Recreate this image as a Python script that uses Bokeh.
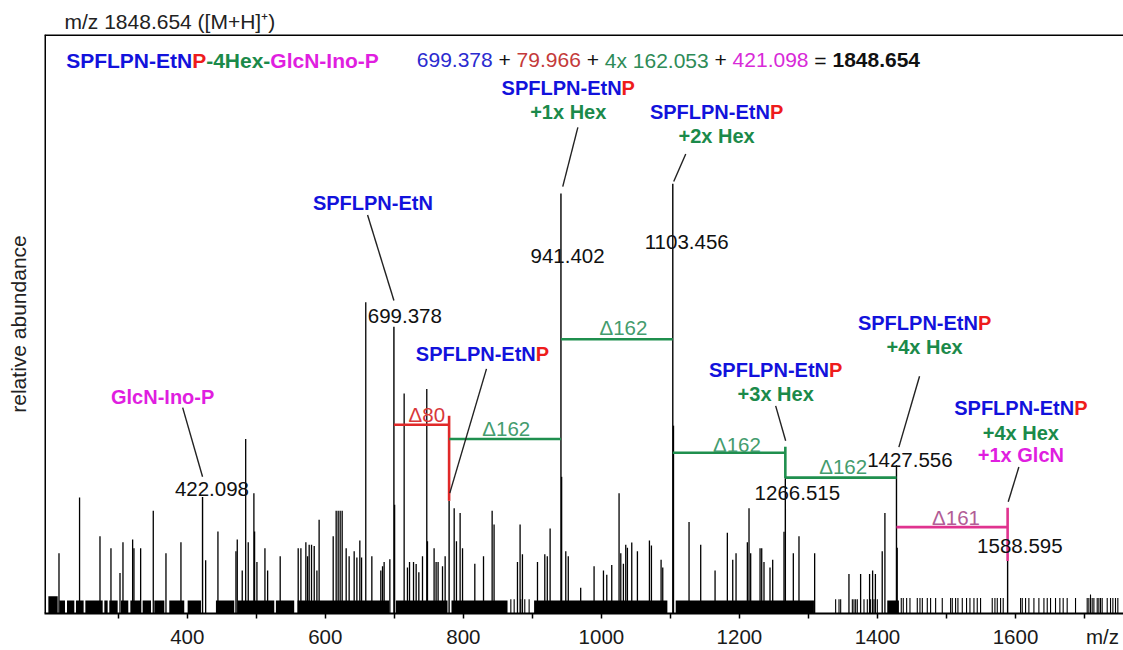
import math
from bokeh.plotting import figure
from bokeh.models import Range1d, FixedTicker, LinearAxis, Span
from bokeh.core.properties import value
from bokeh.embed import file_html
from bokeh.resources import INLINE

FONT = "Liberation Sans"

# ---------------- data ----------------
# labelled ions (m/z, relative abundance %)
ion_mz = [422.098, 699.378, 779.344, 941.402, 1103.456, 1266.515, 1427.556, 1588.595]
ion_int = [27.1, 66.7, 26.2, 97.7, 100.0, 31.5, 34.5, 12.2]

# other resolved peaks (m/z, %)
peak_mz = [214.1, 243.9, 273.5, 289.4, 302.5, 306.8, 320.8, 322.7, 332.4, 350.7,
           369.1, 390.8, 426.6, 444.4, 470.5, 472.4, 479.6, 484.6, 488.3, 496.5,
           497.5, 500.9, 512.5, 516.4, 534.6, 560.7, 564.6, 571.8, 574.3, 576.6,
           580.0, 583.9, 587.8, 591.0, 611.4, 615.7, 618.6, 621.5, 624.4, 630.2,
           634.5, 641.8, 645.7, 650.0, 652.5, 658.6, 667.4, 680.4, 682.9, 685.2,
           693.5, 700.4, 714.2, 719.0, 722.0, 727.8, 731.6, 735.5, 740.8, 747.0,
           748.0, 757.6, 760.5, 763.4, 769.8, 773.6, 786.7, 790.0, 795.3, 798.8,
           816.6, 829.2, 841.7, 844.5, 878.4, 882.2, 885.6, 907.4, 918.0, 921.6,
           925.7, 942.4, 948.4, 952.0, 970.0, 989.4, 1003.0, 1007.8, 1015.0, 1025.6,
           1028.1, 1031.9, 1035.3, 1037.7, 1044.0, 1052.2, 1069.6, 1072.5, 1086.5, 1088.9,
           1104.5, 1127.0, 1143.9, 1164.7, 1182.5, 1190.3, 1195.1, 1211.5, 1213.9, 1216.3,
           1229.9, 1232.3, 1235.6, 1244.3, 1248.2, 1264.6, 1278.1, 1286.3, 1309.0, 1358.7,
           1375.6, 1388.6, 1393.0, 1397.0, 1406.9, 1410.8, 1428.6]
peak_int = [14.0, 27.0, 18.0, 15.2, 9.4, 16.6, 17.2, 15.2, 15.2, 23.9,
            14.0, 16.6, 12.4, 19.1, 14.5, 17.2, 10.0, 40.6, 16.6, 28.0,
            19.1, 12.0, 15.2, 10.0, 13.3, 15.2, 15.2, 16.6, 13.3, 16.0,
            16.0, 15.7, 10.0, 21.8, 18.0, 23.9, 23.9, 23.9, 23.9, 15.2,
            13.3, 14.5, 13.0, 17.0, 13.0, 72.4, 13.3, 10.0, 11.0, 12.0,
            12.6, 25.3, 51.2, 10.7, 12.0, 12.0, 11.5, 9.6, 13.3, 52.2,
            16.8, 15.2, 12.0, 12.0, 11.0, 13.3, 24.5, 16.8, 23.4, 15.2,
            11.6, 13.3, 23.9, 20.7, 12.0, 20.7, 13.8, 12.0, 13.8, 13.3,
            19.8, 31.8, 14.5, 13.3, 6.0, 11.0, 10.0, 9.0, 11.3, 28.0,
            14.0, 11.6, 16.0, 15.3, 16.5, 14.5, 17.0, 15.8, 12.5, 10.7,
            43.7, 21.3, 16.0, 10.0, 18.8, 12.5, 14.0, 16.6, 24.5, 14.0,
            15.2, 15.2, 12.0, 10.7, 12.5, 19.0, 14.0, 18.0, 14.0, 9.2,
            9.2, 9.2, 10.0, 9.2, 14.5, 23.4, 15.3]

# small isolated noise peaks (m/z, %)
small_mz = [868.8, 873.6, 883.2, 889.0, 895.3, 1339.4, 1344.3, 1346.7, 1363.6, 1366.0,
            1368.4, 1370.8, 1380.5, 1385.3, 1390.1, 1395.0, 1399.8, 1434.5, 1437.4, 1442.3,
            1447.1, 1457.7, 1461.6, 1465.0, 1472.2, 1477.0, 1484.3, 1493.9, 1506.0, 1508.4,
            1513.2, 1516.6, 1522.9, 1529.1, 1534.0, 1539.8, 1544.6, 1549.4, 1566.3, 1570.2,
            1573.6, 1578.4, 1582.2, 1607.4, 1609.8, 1614.6, 1619.4, 1626.7, 1633.9, 1641.2,
            1646.0, 1650.8, 1658.0, 1664.3, 1669.1, 1674.9, 1687.0, 1703.9, 1706.3, 1708.7,
            1711.1, 1713.6, 1718.4, 1720.8, 1723.2, 1725.6, 1732.9, 1737.7, 1741.1, 1744.9,
            1748.3]
small_int = [3.3] * 17 + [3.6] * 26 + [3.6] * 14 + [3.6, 3.6, 4.4, 3.6, 3.6, 3.6, 3.6,
             3.6, 3.6, 3.6, 3.6, 3.6, 3.6, 3.6]

# dense noise floor regions (m/z start, m/z end, %)
noise_start = [198.7, 214.6, 225.7, 238.7, 252.3, 279.8, 287.0, 303.9, 317.5, 335.3,
               352.2, 373.9, 400.5, 441.5, 472.9, 528.4, 559.8, 702.2, 782.8, 902.5,
               1107.7, 1414.2]
noise_end = [212.2, 222.8, 236.3, 249.8, 277.4, 284.6, 299.1, 314.5, 333.0, 347.4,
             366.7, 395.6, 419.8, 468.0, 526.0, 554.9, 692.6, 777.0, 864.0, 1095.6,
             1308.0, 1431.1]
noise_int = [4.0, 3.0, 3.0, 3.0, 3.0, 3.0, 3.0, 3.0, 3.0, 3.0,
             3.0, 3.0, 3.0, 3.0, 3.0, 3.0, 3.0, 3.0, 3.0, 3.0,
             3.0, 3.0]

x_labels = [400, 600, 800, 1000, 1200, 1400, 1600]
x_tick_marks = [300, 400, 500, 600, 700, 800, 900, 1000, 1100, 1200, 1300, 1400, 1500, 1600, 1700]
MZ_CAPTION_POS = 1726

X_START, X_END = 193.1, 1756.5
Y_START, Y_END = 0, 134.7

# ---------------- colours ----------------
BLUE = "#1212dc"
RED = "#ee1c1c"
GREEN = "#1b8a4a"
MAG = "#e01ee0"
D_RED = "#d8383a"
D_GREEN = "#449c6e"
D_MAG = "#b25c96"
L_RED = "#e02828"
L_GREEN = "#1f8f4e"
L_MAG = "#e0338f"

# ---------------- figure ----------------
p = figure(width=1123, height=650, x_range=Range1d(X_START, X_END), y_range=Range1d(Y_START, Y_END),
           output_backend="svg", toolbar_location=None, y_axis_location=None,
           min_border_left=44, min_border_right=0, min_border_top=34, min_border_bottom=30)
p.grid.visible = False
p.outline_line_color = None
p.background_fill_color = "white"
p.border_fill_color = "white"

# frame: left and top edges only
p.add_layout(Span(location=Y_END, dimension="width", line_color="black", line_width=3))
p.add_layout(Span(location=X_START, dimension="height", line_color="black", line_width=3))

p.title.text = "m/z 1848.654 ([M+H]\u207a)"
p.title.align = "left"
p.title.offset = 20
p.title.standoff = 4
p.title.text_font = FONT
p.title.text_font_size = "21px"
p.title.text_font_style = "normal"
p.title.text_color = "#222222"

ax = p.xaxis[0]
ax.ticker = FixedTicker(ticks=x_labels + [MZ_CAPTION_POS], minor_ticks=x_tick_marks)
ax.major_label_overrides = {MZ_CAPTION_POS: "m/z"}
ax.axis_line_width = 2
ax.axis_line_color = "black"
ax.major_tick_out = 0
ax.major_tick_in = 0
ax.major_tick_line_color = None
ax.minor_tick_out = 5
ax.minor_tick_in = 0
ax.minor_tick_line_width = 1.5
ax.minor_tick_line_color = "black"
ax.major_label_standoff = 6
ax.major_label_text_font = FONT
ax.major_label_text_font_size = "20.5px"
ax.major_label_text_color = "#1a1a1a"

yax = LinearAxis(ticker=FixedTicker(ticks=[]), axis_label="relative abundance",
                 axis_line_color=None, major_tick_line_color=None, minor_tick_line_color=None,
                 major_label_text_font_size="0px", axis_label_standoff=15,
                 axis_label_text_font=FONT, axis_label_text_font_size="21px",
                 axis_label_text_font_style="normal", axis_label_text_color="#222222")
p.add_layout(yax, "left")

# noise floor and peaks
p.quad(left=noise_start, right=noise_end, bottom=0, top=noise_int,
       fill_color="black", line_color=None)
p.segment(x0=small_mz, y0=[0] * len(small_mz), x1=small_mz, y1=small_int,
          line_color="black", line_width=1.1)
p.segment(x0=peak_mz, y0=[0] * len(peak_mz), x1=peak_mz, y1=peak_int,
          line_color="black", line_width=1.3)
p.segment(x0=ion_mz, y0=[0] * len(ion_mz), x1=ion_mz, y1=ion_int,
          line_color="black", line_width=1.4)

# ---------------- mass-difference brackets ----------------
mz_699, mz_779, mz_941, mz_1103, mz_1266, mz_1427, mz_1588 = (ion_mz[1], ion_mz[2], ion_mz[3],
                                                           ion_mz[4], ion_mz[5], ion_mz[6], ion_mz[7])
brackets = [
    (mz_699, 43.9, mz_779, 43.9, L_RED),
    (mz_779, 46.0, mz_779, ion_int[2], L_RED),
    (mz_779, 40.6, mz_941, 40.6, L_GREEN),
    (mz_941, 63.8, mz_1103, 63.8, L_GREEN),
    (mz_1103, 37.4, mz_1266, 37.4, L_GREEN),
    (mz_1266, 38.8, mz_1266, ion_int[5], L_GREEN),
    (mz_1266, 31.6, mz_1427, 31.6, L_GREEN),
    (mz_1427, 20.1, mz_1588, 20.1, L_MAG),
    (mz_1588, 24.6, mz_1588, ion_int[7], L_MAG),
]
p.segment(x0=[b[0] for b in brackets], y0=[b[1] for b in brackets],
          x1=[b[2] for b in brackets], y1=[b[3] for b in brackets],
          line_color=[b[4] for b in brackets], line_width=2.6)

delta_labels = [("Δ80", 747.1, 46.4, D_RED), ("Δ162", 862.2, 43.1, D_GREEN),
                ("Δ162", 1031.9, 66.5, D_GREEN), ("Δ162", 1196.4, 39.4, D_GREEN),
                ("Δ162", 1350.3, 34.1, D_GREEN), ("Δ161", 1513.9, 22.4, D_MAG)]
p.text(x=[d[1] for d in delta_labels], y=[d[2] for d in delta_labels],
       text=[d[0] for d in delta_labels], text_color=[d[3] for d in delta_labels],
       text_font=value(FONT), text_font_size="20.5px", text_align="center",
       text_baseline="middle")

# ---------------- text helpers ----------------
REG = {" ": 278, "+": 584, "-": 333, ".": 278, "=": 584, "x": 500, "(": 333, ")": 333,
       "[": 278, "]": 278, "/": 278, "m": 833, "z": 500, "M": 833, "H": 722}
BOLD = {"S": 667, "P": 667, "F": 611, "L": 611, "N": 722, "-": 333, "E": 667, "t": 333,
        "+": 584, "x": 556, "H": 722, "e": 556, "G": 778, "l": 278, "c": 556, "I": 278,
        "n": 611, "o": 611, " ": 278, ".": 278, "=": 584}


def text_width(s, bold, size):
    table = BOLD if bold else REG
    return sum(table.get(ch, 556) for ch in s) / 1000.0 * size


def rich_line(segs, x, y, size, align="center"):
    widths = [text_width(t, b, size) for t, c, b in segs]
    total = sum(widths)
    off = {"left": 0.0, "center": -total / 2.0, "right": -total}[align]
    for (t, c, b), w in zip(segs, widths):
        lead = len(t) - len(t.lstrip(" "))
        shown = t.strip(" ")
        if shown:
            p.text(x=[x], y=[y], text=[shown], x_offset=off + text_width(" " * lead, b, size),
                   text_color=c, text_font=value(FONT), text_font_size=f"{size}px",
                   text_font_style="bold" if b else "normal",
                   text_align="left", text_baseline="middle")
        off += w


SP = [("SPFLPN-EtN", BLUE, True), ("P", RED, True)]
LS = 20

# header
rich_line([("SPFLPN-EtN", BLUE, True), ("P", RED, True), ("-4Hex-", GREEN, True),
           ("GlcN-Ino-P", MAG, True)], 224.5, 128.7, 21, "left")
rich_line([("699.378", "#2b2bd0", False), (" + ", "#111111", False), ("79.966", "#c43a3a", False),
           (" + ", "#111111", False), ("4x 162.053", "#2e8b57", False), (" + ", "#111111", False),
           ("421.098", "#d82ad8", False), (" = ", "#111111", False), ("1848.654", "#111111", True)],
          732.5, 128.7, 21, "left")

# ion labels
rich_line([("GlcN-Ino-P", MAG, True)], 364.3, 50.4, LS)
rich_line([("SPFLPN-EtN", BLUE, True)], 668.9, 95.4, LS)
rich_line(SP, 952.0, 122.3, LS)
rich_line([("+1x Hex", GREEN, True)], 952.0, 116.6, LS)
rich_line(SP, 1166.9, 116.6, LS)
rich_line([("+2x Hex", GREEN, True)], 1166.9, 111.0, LS)
rich_line(SP, 827.7, 60.4, LS)
rich_line(SP, 1252.5, 56.6, LS)
rich_line([("+3x Hex", GREEN, True)], 1252.5, 51.0, LS)
rich_line(SP, 1468.3, 67.6, LS)
rich_line([("+4x Hex", GREEN, True)], 1468.3, 62.1, LS)
rich_line(SP, 1607.8, 47.7, LS)
rich_line([("+4x Hex", GREEN, True)], 1607.8, 42.0, LS)
rich_line([("+1x GlcN", MAG, True)], 1607.8, 36.8, LS)

# leader lines
leaders = [(393.3, 47.9, 422.1, 31.8), (661.2, 92.7, 699.4, 72.8), (965.9, 113.1, 944.0, 99.3),
           (1122.2, 106.9, 1104.8, 100.5), (833.5, 56.9, 780.3, 28.0), (1252.5, 48.3, 1267.0, 40.2),
           (1461.0, 55.2, 1431.0, 38.7), (1604.9, 34.1, 1589.5, 26.0)]
p.segment(x0=[l[0] for l in leaders], y0=[l[1] for l in leaders],
          x1=[l[2] for l in leaders], y1=[l[3] for l in leaders],
          line_color="#222222", line_width=1.4)

# peak m/z labels
mz_labels = [(f"{ion_mz[0]:.3f}", 435.7, 29.0), (f"{ion_mz[1]:.3f}", 715.2, 69.1),
             (f"{ion_mz[3]:.3f}", 951.0, 83.1), (f"{ion_mz[4]:.3f}", 1123.6, 86.4),
             (f"{ion_mz[5]:.3f}", 1283.9, 28.0), (f"{ion_mz[6]:.3f}", 1447.0, 35.6),
             (f"{ion_mz[7]:.3f}", 1606.3, 15.7)]
p.text(x=[m[1] for m in mz_labels], y=[m[2] for m in mz_labels], text=[m[0] for m in mz_labels],
       text_color="#111111", text_font=value(FONT), text_font_size="20.5px",
       text_align="center", text_baseline="middle")

open("out.html", "w").write(file_html(p, INLINE))
